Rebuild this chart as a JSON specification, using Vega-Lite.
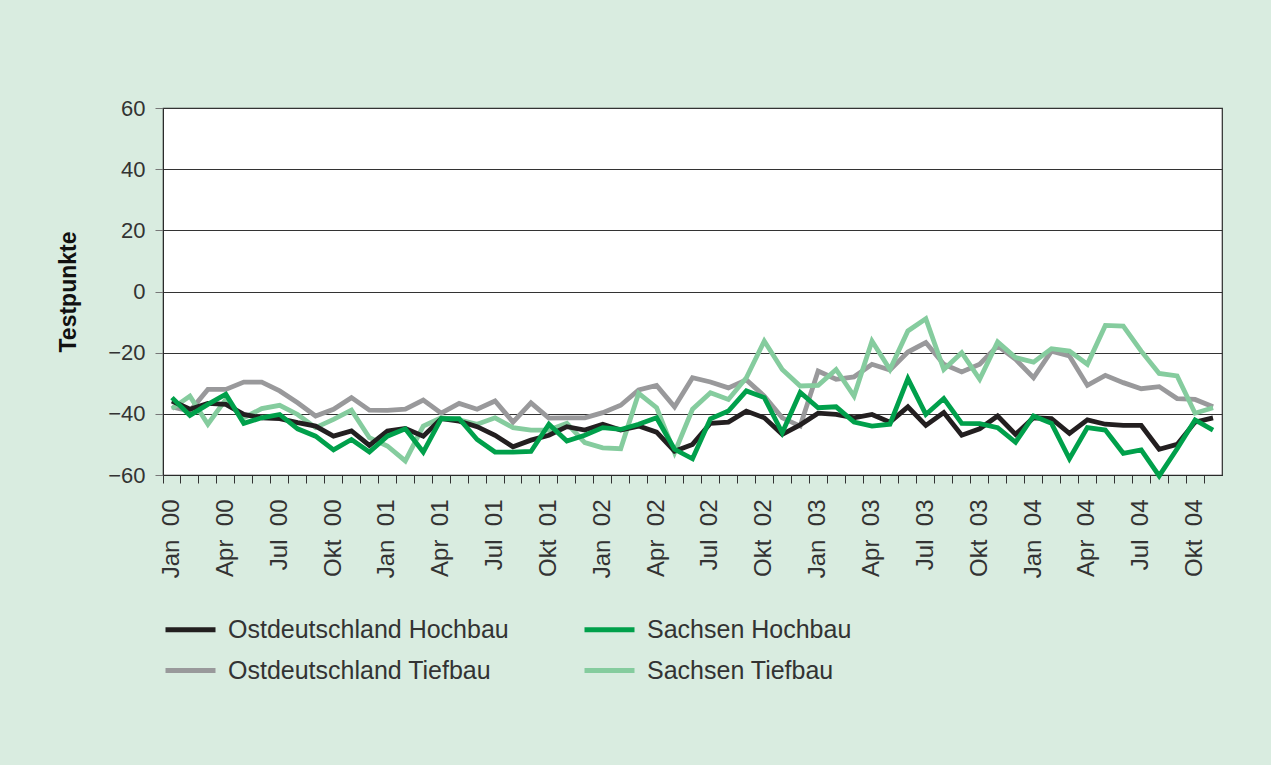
{
  "$schema": "https://vega.github.io/schema/vega-lite/v6.json",
  "width": 1059,
  "height": 367,
  "autosize": "none",
  "padding": {"left": 163, "top": 108, "right": 49, "bottom": 290},
  "background": "#d9ece0",
  "view": {"fill": "#ffffff", "stroke": "#2b2b2b", "strokeWidth": 1.2},
  "config": {
    "font": "Liberation Sans",
    "axis": {"labelFont": "Liberation Sans", "titleFont": "Liberation Sans"},
    "legend": {"labelFont": "Liberation Sans"}
  },
  "data": {
    "values": [
      {"m": "Jan 00", "Ostdeutschland Hochbau": -35.8, "Ostdeutschland Tiefbau": -37.7, "Sachsen Hochbau": -34.7, "Sachsen Tiefbau": -38.3},
      {"m": "Feb 00", "Ostdeutschland Hochbau": -38.5, "Ostdeutschland Tiefbau": -39.1, "Sachsen Hochbau": -40.5, "Sachsen Tiefbau": -34.2},
      {"m": "Mär 00", "Ostdeutschland Hochbau": -36.6, "Ostdeutschland Tiefbau": -32.0, "Sachsen Hochbau": -36.9, "Sachsen Tiefbau": -43.4},
      {"m": "Apr 00", "Ostdeutschland Hochbau": -36.9, "Ostdeutschland Tiefbau": -32.0, "Sachsen Hochbau": -33.6, "Sachsen Tiefbau": -35.3},
      {"m": "Mai 00", "Ostdeutschland Hochbau": -40.2, "Ostdeutschland Tiefbau": -29.6, "Sachsen Hochbau": -43.1, "Sachsen Tiefbau": -41.3},
      {"m": "Jun 00", "Ostdeutschland Hochbau": -41.3, "Ostdeutschland Tiefbau": -29.6, "Sachsen Hochbau": -41.3, "Sachsen Tiefbau": -38.3},
      {"m": "Jul 00", "Ostdeutschland Hochbau": -41.6, "Ostdeutschland Tiefbau": -32.5, "Sachsen Hochbau": -40.2, "Sachsen Tiefbau": -37.2},
      {"m": "Aug 00", "Ostdeutschland Hochbau": -42.9, "Ostdeutschland Tiefbau": -36.4, "Sachsen Hochbau": -44.9, "Sachsen Tiefbau": -40.2},
      {"m": "Sep 00", "Ostdeutschland Hochbau": -44.0, "Ostdeutschland Tiefbau": -40.7, "Sachsen Hochbau": -47.3, "Sachsen Tiefbau": -44.5},
      {"m": "Okt 00", "Ostdeutschland Hochbau": -47.3, "Ostdeutschland Tiefbau": -38.5, "Sachsen Hochbau": -51.8, "Sachsen Tiefbau": -41.8},
      {"m": "Nov 00", "Ostdeutschland Hochbau": -45.6, "Ostdeutschland Tiefbau": -34.7, "Sachsen Hochbau": -48.4, "Sachsen Tiefbau": -38.8},
      {"m": "Dez 00", "Ostdeutschland Hochbau": -50.3, "Ostdeutschland Tiefbau": -38.8, "Sachsen Hochbau": -52.5, "Sachsen Tiefbau": -47.8},
      {"m": "Jan 01", "Ostdeutschland Hochbau": -45.6, "Ostdeutschland Tiefbau": -38.9, "Sachsen Hochbau": -47.3, "Sachsen Tiefbau": -50.5},
      {"m": "Feb 01", "Ostdeutschland Hochbau": -44.8, "Ostdeutschland Tiefbau": -38.5, "Sachsen Hochbau": -44.9, "Sachsen Tiefbau": -55.4},
      {"m": "Mär 01", "Ostdeutschland Hochbau": -47.3, "Ostdeutschland Tiefbau": -35.5, "Sachsen Hochbau": -52.5, "Sachsen Tiefbau": -44.0},
      {"m": "Apr 01", "Ostdeutschland Hochbau": -41.6, "Ostdeutschland Tiefbau": -39.8, "Sachsen Hochbau": -41.6, "Sachsen Tiefbau": -41.3},
      {"m": "Mai 01", "Ostdeutschland Hochbau": -42.4, "Ostdeutschland Tiefbau": -36.6, "Sachsen Hochbau": -41.6, "Sachsen Tiefbau": -42.0},
      {"m": "Jun 01", "Ostdeutschland Hochbau": -44.2, "Ostdeutschland Tiefbau": -38.5, "Sachsen Hochbau": -48.4, "Sachsen Tiefbau": -43.4},
      {"m": "Jul 01", "Ostdeutschland Hochbau": -47.0, "Ostdeutschland Tiefbau": -35.8, "Sachsen Hochbau": -52.5, "Sachsen Tiefbau": -41.3},
      {"m": "Aug 01", "Ostdeutschland Hochbau": -50.8, "Ostdeutschland Tiefbau": -42.7, "Sachsen Hochbau": -52.5, "Sachsen Tiefbau": -44.5},
      {"m": "Sep 01", "Ostdeutschland Hochbau": -48.6, "Ostdeutschland Tiefbau": -36.4, "Sachsen Hochbau": -52.3, "Sachsen Tiefbau": -45.3},
      {"m": "Okt 01", "Ostdeutschland Hochbau": -47.0, "Ostdeutschland Tiefbau": -41.4, "Sachsen Hochbau": -43.4, "Sachsen Tiefbau": -45.3},
      {"m": "Nov 01", "Ostdeutschland Hochbau": -44.2, "Ostdeutschland Tiefbau": -41.3, "Sachsen Hochbau": -48.9, "Sachsen Tiefbau": -43.1},
      {"m": "Dez 01", "Ostdeutschland Hochbau": -45.3, "Ostdeutschland Tiefbau": -41.3, "Sachsen Hochbau": -47.0, "Sachsen Tiefbau": -49.4},
      {"m": "Jan 02", "Ostdeutschland Hochbau": -43.4, "Ostdeutschland Tiefbau": -39.6, "Sachsen Hochbau": -44.5, "Sachsen Tiefbau": -51.1},
      {"m": "Feb 02", "Ostdeutschland Hochbau": -45.3, "Ostdeutschland Tiefbau": -37.2, "Sachsen Hochbau": -45.1, "Sachsen Tiefbau": -51.4},
      {"m": "Mär 02", "Ostdeutschland Hochbau": -44.0, "Ostdeutschland Tiefbau": -32.2, "Sachsen Hochbau": -43.4, "Sachsen Tiefbau": -33.3},
      {"m": "Apr 02", "Ostdeutschland Hochbau": -46.0, "Ostdeutschland Tiefbau": -30.7, "Sachsen Hochbau": -41.3, "Sachsen Tiefbau": -38.0},
      {"m": "Mai 02", "Ostdeutschland Hochbau": -52.2, "Ostdeutschland Tiefbau": -37.7, "Sachsen Hochbau": -51.6, "Sachsen Tiefbau": -52.7},
      {"m": "Jun 02", "Ostdeutschland Hochbau": -50.0, "Ostdeutschland Tiefbau": -28.2, "Sachsen Hochbau": -54.7, "Sachsen Tiefbau": -38.5},
      {"m": "Jul 02", "Ostdeutschland Hochbau": -43.1, "Ostdeutschland Tiefbau": -29.6, "Sachsen Hochbau": -41.6, "Sachsen Tiefbau": -33.1},
      {"m": "Aug 02", "Ostdeutschland Hochbau": -42.7, "Ostdeutschland Tiefbau": -31.5, "Sachsen Hochbau": -39.1, "Sachsen Tiefbau": -35.3},
      {"m": "Sep 02", "Ostdeutschland Hochbau": -39.1, "Ostdeutschland Tiefbau": -28.9, "Sachsen Hochbau": -32.5, "Sachsen Tiefbau": -28.2},
      {"m": "Okt 02", "Ostdeutschland Hochbau": -41.3, "Ostdeutschland Tiefbau": -34.2, "Sachsen Hochbau": -34.7, "Sachsen Tiefbau": -16.2},
      {"m": "Nov 02", "Ostdeutschland Hochbau": -46.7, "Ostdeutschland Tiefbau": -41.3, "Sachsen Hochbau": -46.2, "Sachsen Tiefbau": -25.5},
      {"m": "Dez 02", "Ostdeutschland Hochbau": -43.6, "Ostdeutschland Tiefbau": -44.0, "Sachsen Hochbau": -33.0, "Sachsen Tiefbau": -30.9},
      {"m": "Jan 03", "Ostdeutschland Hochbau": -39.8, "Ostdeutschland Tiefbau": -26.0, "Sachsen Hochbau": -38.0, "Sachsen Tiefbau": -30.7},
      {"m": "Feb 03", "Ostdeutschland Hochbau": -40.2, "Ostdeutschland Tiefbau": -28.7, "Sachsen Hochbau": -37.7, "Sachsen Tiefbau": -25.5},
      {"m": "Mär 03", "Ostdeutschland Hochbau": -41.3, "Ostdeutschland Tiefbau": -27.9, "Sachsen Hochbau": -42.7, "Sachsen Tiefbau": -34.2},
      {"m": "Apr 03", "Ostdeutschland Hochbau": -40.2, "Ostdeutschland Tiefbau": -23.8, "Sachsen Hochbau": -44.0, "Sachsen Tiefbau": -16.2},
      {"m": "Mai 03", "Ostdeutschland Hochbau": -42.7, "Ostdeutschland Tiefbau": -25.7, "Sachsen Hochbau": -43.4, "Sachsen Tiefbau": -25.5},
      {"m": "Jun 03", "Ostdeutschland Hochbau": -37.7, "Ostdeutschland Tiefbau": -19.8, "Sachsen Hochbau": -28.5, "Sachsen Tiefbau": -12.9},
      {"m": "Jul 03", "Ostdeutschland Hochbau": -43.8, "Ostdeutschland Tiefbau": -16.7, "Sachsen Hochbau": -40.2, "Sachsen Tiefbau": -8.9},
      {"m": "Aug 03", "Ostdeutschland Hochbau": -39.6, "Ostdeutschland Tiefbau": -23.8, "Sachsen Hochbau": -35.0, "Sachsen Tiefbau": -25.5},
      {"m": "Sep 03", "Ostdeutschland Hochbau": -47.0, "Ostdeutschland Tiefbau": -26.3, "Sachsen Hochbau": -43.1, "Sachsen Tiefbau": -20.0},
      {"m": "Okt 03", "Ostdeutschland Hochbau": -44.9, "Ostdeutschland Tiefbau": -23.8, "Sachsen Hochbau": -43.2, "Sachsen Tiefbau": -28.7},
      {"m": "Nov 03", "Ostdeutschland Hochbau": -40.7, "Ostdeutschland Tiefbau": -17.8, "Sachsen Hochbau": -44.5, "Sachsen Tiefbau": -16.5},
      {"m": "Dez 03", "Ostdeutschland Hochbau": -46.7, "Ostdeutschland Tiefbau": -22.2, "Sachsen Hochbau": -49.3, "Sachsen Tiefbau": -21.6},
      {"m": "Jan 04", "Ostdeutschland Hochbau": -41.3, "Ostdeutschland Tiefbau": -28.2, "Sachsen Hochbau": -40.7, "Sachsen Tiefbau": -23.1},
      {"m": "Feb 04", "Ostdeutschland Hochbau": -41.6, "Ostdeutschland Tiefbau": -19.5, "Sachsen Hochbau": -43.1, "Sachsen Tiefbau": -18.7},
      {"m": "Mär 04", "Ostdeutschland Hochbau": -46.4, "Ostdeutschland Tiefbau": -21.1, "Sachsen Hochbau": -54.7, "Sachsen Tiefbau": -19.5},
      {"m": "Apr 04", "Ostdeutschland Hochbau": -42.0, "Ostdeutschland Tiefbau": -30.7, "Sachsen Hochbau": -44.5, "Sachsen Tiefbau": -23.8},
      {"m": "Mai 04", "Ostdeutschland Hochbau": -43.4, "Ostdeutschland Tiefbau": -27.4, "Sachsen Hochbau": -45.3, "Sachsen Tiefbau": -11.1},
      {"m": "Jun 04", "Ostdeutschland Hochbau": -43.8, "Ostdeutschland Tiefbau": -29.8, "Sachsen Hochbau": -52.9, "Sachsen Tiefbau": -11.3},
      {"m": "Jul 04", "Ostdeutschland Hochbau": -43.8, "Ostdeutschland Tiefbau": -31.8, "Sachsen Hochbau": -51.8, "Sachsen Tiefbau": -19.5},
      {"m": "Aug 04", "Ostdeutschland Hochbau": -51.6, "Ostdeutschland Tiefbau": -31.1, "Sachsen Hochbau": -60.3, "Sachsen Tiefbau": -26.8},
      {"m": "Sep 04", "Ostdeutschland Hochbau": -50.0, "Ostdeutschland Tiefbau": -35.0, "Sachsen Hochbau": -51.4, "Sachsen Tiefbau": -27.6},
      {"m": "Okt 04", "Ostdeutschland Hochbau": -42.7, "Ostdeutschland Tiefbau": -35.3, "Sachsen Hochbau": -42.0, "Sachsen Tiefbau": -39.8},
      {"m": "Nov 04", "Ostdeutschland Hochbau": -41.3, "Ostdeutschland Tiefbau": -37.7, "Sachsen Hochbau": -45.3, "Sachsen Tiefbau": -38.0}
    ]
  },
  "transform": [
    {"fold": ["Ostdeutschland Tiefbau", "Sachsen Tiefbau", "Ostdeutschland Hochbau", "Sachsen Hochbau"], "as": ["serie", "wert"]}
  ],
  "mark": {"type": "line", "strokeWidth": 4.8, "strokeJoin": "miter", "strokeCap": "butt"},
  "encoding": {
    "x": {
      "field": "m",
      "type": "ordinal",
      "sort": null,
      "bandPosition": 0.5,
      "scale": {"type": "band", "paddingInner": 0, "paddingOuter": 0},
      "axis": {
        "title": null,
        "bandPosition": 0,
        "labelAngle": 270,
        "labelExpr": "test(/^(Jan|Apr|Jul|Okt)/, datum.value) ? replace(datum.value, ' ', '\u00a0\u00a0') : ''",
        "labelFontSize": 24,
        "labelColor": "#333333",
        "labelPadding": 16,
        "tickSize": 8,
        "tickColor": "#333333",
        "domainColor": "#2b2b2b",
        "labelOverlap": false,
        "grid": false
      }
    },
    "y": {
      "field": "wert",
      "type": "quantitative",
      "scale": {"domain": [-60, 60], "nice": false, "zero": false},
      "axis": {
        "title": "Testpunkte",
        "values": [-60, -40, -20, 0, 20, 40, 60],
        "grid": true,
        "gridColor": "#333333",
        "gridWidth": 1.2,
        "tickSize": 8,
        "tickColor": "#777777",
        "domainColor": "#2b2b2b",
        "labelFontSize": 22,
        "labelColor": "#333333",
        "labelPadding": 10,
        "titleFontSize": 23,
        "titleFontWeight": "bold",
        "titleColor": "#111111",
        "titlePadding": 27
      }
    },
    "color": {
      "field": "serie",
      "type": "nominal",
      "scale": {
        "domain": ["Ostdeutschland Hochbau", "Sachsen Hochbau", "Ostdeutschland Tiefbau", "Sachsen Tiefbau"],
        "range": ["#231f20", "#00a04b", "#99999b", "#85cc9e"]
      },
      "legend": {
        "title": null,
        "orient": "none",
        "legendX": 0,
        "legendY": 494,
        "columns": 2,
        "direction": "horizontal",
        "symbolType": "stroke",
        "symbolSize": 2500,
        "symbolStrokeWidth": 5,
        "labelFontSize": 25,
        "labelColor": "#333333",
        "labelOffset": 10,
        "labelLimit": 500,
        "columnPadding": 65,
        "rowPadding": -2,
        "padding": 0
      }
    }
  }
}
